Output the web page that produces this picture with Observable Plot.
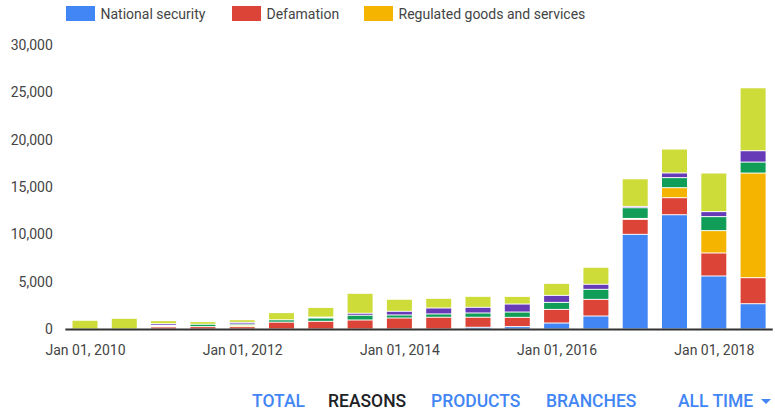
<!DOCTYPE html>
<html>
<head>
<meta charset="utf-8">
<script src="https://cdn.jsdelivr.net/npm/d3@7"></script>
<script src="https://cdn.jsdelivr.net/npm/@observablehq/plot@0.6"></script>
<style>
  html, body { margin: 0; padding: 0; background: #fff; }
  body { width: 775px; height: 412px; overflow: hidden; font-family: Roboto, "Noto Sans", sans-serif; position: relative; }
  #legend { position: relative; height: 30px; }
  .item { position: absolute; top: 6px; height: 15px; display: flex; align-items: center; font-size: 14px; color: #444; white-space: nowrap; }
  .sw { width: 29px; height: 15px; margin-right: 5.5px; flex: none; }
  #nav { position: relative; height: 48px; }
  .nav { position: absolute; top: 26.5px; font-size: 17.5px; line-height: 20px; font-weight: 500; color: #4285f4; white-space: nowrap; }
  .nav.active { color: #202124; }
  #tri { position: absolute; left: 761px; top: 35px; width: 0; height: 0; border-left: 5px solid transparent; border-right: 5px solid transparent; border-top: 5px solid #4285f4; }
</style>
</head>
<body>
<div id="legend"></div>
<div id="chart"></div>
<div id="nav"></div>
<script>
// Half-year periods
const periods = ["2010-01-01","2010-07-01","2011-01-01","2011-07-01","2012-01-01","2012-07-01",
  "2013-01-01","2013-07-01","2014-01-01","2014-07-01","2015-01-01","2015-07-01",
  "2016-01-01","2016-07-01","2017-01-01","2017-07-01","2018-01-01","2018-07-01"];
const xTicks = ["2010-01-01","2012-01-01","2014-01-01","2016-01-01","2018-01-01"];
const yTicks = [0, 5000, 10000, 15000, 20000, 25000, 30000];

const seriesNames = ["National security","Defamation","Regulated goods and services","Privacy and security","Violence","All other reasons"];
const seriesColors = ["#4285f4","#db4437","#f4b400","#0f9d58","#673ab7","#cddc39"];
const legendNames = ["National security","Defamation","Regulated goods and services"];

const nationalSecurity = [0,0,0,0,0,0,0,0,0,0,180,250,630,1370,10000,12070,5600,2670];
const defamation       = [0,0,220,250,245,720,810,950,1160,1240,1060,980,1440,1760,1580,1800,2430,2750];
const regulatedGoods   = [0,0,110,0,140,0,0,0,0,0,0,0,0,0,100,1060,2360,11050];
const privacySecurity  = [0,0,50,250,140,250,350,500,320,350,450,560,740,1060,1130,1060,1480,1160];
const violence         = [0,0,180,0,175,0,100,210,390,630,600,845,740,530,140,490,530,1200];
const otherReasons     = [920,1130,320,280,280,760,1020,2110,1270,1020,1160,810,1270,1800,2920,2530,4080,6650];

const seriesValues = [nationalSecurity, defamation, regulatedGoods, privacySecurity, violence, otherReasons];

const data = [];
periods.forEach((p, i) => {
  seriesNames.forEach((s, k) => {
    const v = seriesValues[k][i];
    if (v > 0) data.push({period: p, series: s, value: v});
  });
});

// Legend
const legend = document.getElementById("legend");
const legendLefts = [66, 232, 364];
legendNames.forEach((name, i) => {
  const it = document.createElement("div");
  it.className = "item";
  it.style.left = legendLefts[i] + "px";
  const sw = document.createElement("div");
  sw.className = "sw";
  sw.style.background = seriesColors[seriesNames.indexOf(name)];
  const tx = document.createElement("span");
  tx.textContent = name;
  it.appendChild(sw); it.appendChild(tx);
  legend.appendChild(it);
});

const fmtDate = d3.utcFormat("%b %d, %Y");
const parse = d3.utcParse("%Y-%m-%d");

const chart = Plot.plot({
  width: 775,
  height: 334,
  marginLeft: 65.35,
  marginRight: 2.25,
  marginTop: 15,
  marginBottom: 35,
  style: {fontFamily: "Roboto, sans-serif", fontSize: "14px", color: "#444", background: "transparent"},
  x: {type: "band", domain: periods, paddingInner: 0.364, paddingOuter: 0.182, round: false, axis: null},
  y: {domain: [0, 30000], axis: null},
  color: {domain: seriesNames, range: seriesColors},
  marks: [
    Plot.barY(data, {x: "period", y: "value", fill: "series", insetTop: 0.5, insetBottom: 0.5}),
    Plot.ruleY([0], {stroke: "#333", strokeWidth: 2}),
    Plot.axisY({ticks: yTicks, tickSize: 0, tickPadding: 13, tickFormat: d3.format(","), fill: "#444", label: null}),
    Plot.axisX({ticks: xTicks, tickSize: 0, tickPadding: 16, tickFormat: d => fmtDate(parse(d)), fill: "#444", label: null})
  ]
});
document.getElementById("chart").appendChild(chart);
chart.style.display = "block";

// Bottom navigation
const navItems = [["TOTAL", 252, false], ["REASONS", 328, true], ["PRODUCTS", 431, false], ["BRANCHES", 546, false], ["ALL TIME", 678, false]];
const nav = document.getElementById("nav");
navItems.forEach(([t, left, active]) => {
  const s = document.createElement("span");
  s.className = "nav" + (active ? " active" : "");
  s.style.left = left + "px";
  s.textContent = t;
  nav.appendChild(s);
});
const tri = document.createElement("div");
tri.id = "tri";
nav.appendChild(tri);
</script>
</body>
</html>
